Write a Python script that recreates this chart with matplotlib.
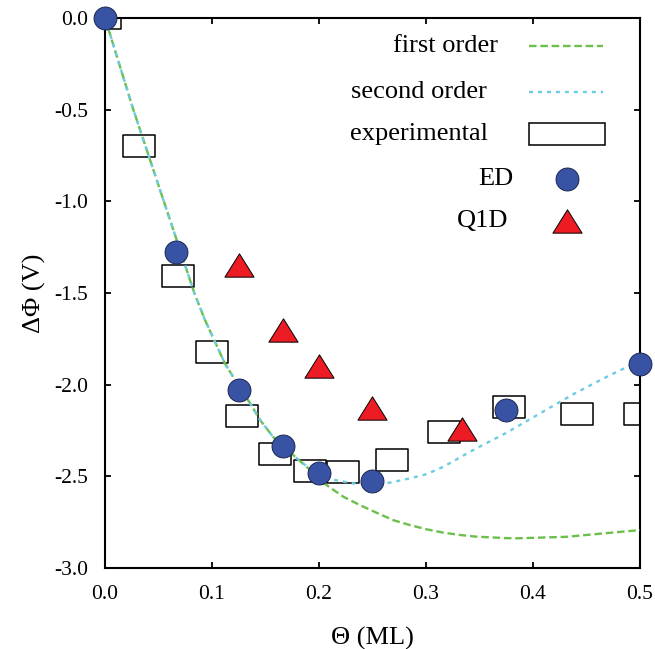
import matplotlib
matplotlib.use("Agg")
import matplotlib.pyplot as plt
from matplotlib.path import Path
from matplotlib.patches import Rectangle

# values
theta_first = [0.0, 0.0265, 0.055, 0.0835, 0.0935, 0.1028, 0.112, 0.1246, 0.1355, 0.145,
               0.157, 0.179, 0.1885, 0.2072, 0.2227, 0.2383, 0.254, 0.2695, 0.285, 0.3006,
               0.316, 0.332, 0.347, 0.375, 0.385, 0.431, 0.5]
dphi_first = [0.0, -0.5, -1.0, -1.5, -1.648, -1.766, -1.884, -2.002, -2.10, -2.193,
              -2.284, -2.40, -2.448, -2.548, -2.611, -2.657, -2.699, -2.739, -2.766, -2.789,
              -2.807, -2.82, -2.829, -2.837, -2.838, -2.83, -2.793]

theta_second = [0.0, 0.0265, 0.055, 0.0835, 0.0935, 0.1028, 0.112, 0.1246, 0.1355, 0.145,
                0.157, 0.179, 0.1885, 0.2, 0.215, 0.232, 0.266, 0.285, 0.3006, 0.3162,
                0.344, 0.3754, 0.4065, 0.4377, 0.469, 0.5]
dphi_second = [0.0, -0.5, -1.0, -1.5, -1.648, -1.766, -1.884, -2.002, -2.10, -2.193,
               -2.284, -2.40, -2.445, -2.49, -2.52, -2.539, -2.535, -2.511, -2.488, -2.448,
               -2.357, -2.262, -2.157, -2.052, -1.957, -1.87]

theta_exp = [0.0, 0.032, 0.068, 0.1, 0.128, 0.159, 0.192, 0.222, 0.268, 0.317,
             0.378, 0.441, 0.5]
dphi_exp = [0.0, -0.70, -1.41, -1.82, -2.17, -2.378, -2.47, -2.478, -2.41, -2.26,
            -2.12, -2.16, -2.16]

theta_ed = [0.0, 0.0667, 0.125, 0.1667, 0.2, 0.25, 0.375, 0.5]
dphi_ed = [0.0, -1.277, -2.03, -2.335, -2.48, -2.526, -2.14, -1.89]

theta_q1d = [0.125, 0.1667, 0.2, 0.25, 0.3333]
dphi_q1d = [-1.35, -1.70, -1.90, -2.13, -2.24]

xticks = [0.0, 0.1, 0.2, 0.3, 0.4, 0.5]
yticks = [0.0, -0.5, -1.0, -1.5, -2.0, -2.5, -3.0]
legend_labels = ["first order", "second order", "experimental", "ED", "Q1D"]

green = "#6cbf4a"
cyan = "#6ccde2"
blue = "#3953a4"
red = "#ed1c24"

plt.rcParams["font.family"] = ["Liberation Serif", "DejaVu Serif"]

rect_marker = Path([(-1.45, -1), (1.45, -1), (1.45, 1), (-1.45, 1), (-1.45, -1)],
                   [Path.MOVETO, Path.LINETO, Path.LINETO, Path.LINETO, Path.CLOSEPOLY])
tri_marker = Path([(-1, -0.8), (1, -0.8), (0, 0.8), (-1, -0.8)],
                  [Path.MOVETO, Path.LINETO, Path.LINETO, Path.CLOSEPOLY])

first_style = dict(color=green, lw=1.7, dashes=(3.2, 1.6))
second_style = dict(color=cyan, lw=1.7, dashes=(1.7, 2.1))
ed_style = dict(linestyle="none", marker="o", ms=16.5, mfc=blue, mec="#1c2550", mew=0.7)
q1d_style = dict(linestyle="none", marker=tri_marker, ms=21, mfc=red, mec="black", mew=0.7)

fig = plt.figure(figsize=(6.55, 6.49), dpi=100)
ax = fig.add_axes([0.1603, 0.1248, 0.8167, 0.8475])

ax.plot(theta_exp, dphi_exp, linestyle="none", marker=rect_marker, ms=22.5,
        mfc="white", mec="black", mew=1.1, zorder=2)
ax.plot(theta_first, dphi_first, zorder=3, **first_style)
ax.plot(theta_second, dphi_second, zorder=3, **second_style)
ax.plot(theta_q1d, dphi_q1d, zorder=4, **q1d_style)
ax.plot(theta_ed, dphi_ed, zorder=5, clip_on=False, **ed_style)

ax.set_xlim(0, 0.5)
ax.set_ylim(-3.0, 0.0)
ax.set_xticks(xticks)
ax.set_yticks(yticks)
ax.set_xticklabels(["%.1f" % v for v in xticks])
ax.set_yticklabels(["%.1f" % v for v in yticks])
ax.tick_params(direction="in", top=True, right=True, length=4.5, width=1.3,
               labelsize=15.5)
ax.tick_params(axis="y", pad=12)
ax.tick_params(axis="x", pad=12)
for s in ax.spines.values():
    s.set_linewidth(1.5)

ax.set_xlabel("Θ (ML)", fontsize=19, labelpad=17)
ax.set_ylabel("ΔΦ (V)", fontsize=19, labelpad=6)

# hand-placed key, as in the original figure
text_x = [0.7346, 0.7140, 0.7159, 0.7626, 0.7533]
row_y = [0.949, 0.866, 0.789, 0.707, 0.631]
for lab, tx, ty in zip(legend_labels, text_x, row_y):
    ax.text(tx, ty, lab, transform=ax.transAxes, ha="right", va="center", fontsize=19)
ax.plot([0.7925, 0.9308], [row_y[0]] * 2, transform=ax.transAxes, **first_style)
ax.plot([0.7925, 0.9308], [row_y[1]] * 2, transform=ax.transAxes, **second_style)
ax.add_patch(Rectangle((0.7925, row_y[2] - 0.02), 0.142, 0.04, transform=ax.transAxes,
                       facecolor="white", edgecolor="black", lw=1.1))
ax.plot([0.8636], [row_y[3]], transform=ax.transAxes, **ed_style)
ax.plot([0.8636], [row_y[4]], transform=ax.transAxes, **q1d_style)

fig.savefig("out.png", dpi=100)
